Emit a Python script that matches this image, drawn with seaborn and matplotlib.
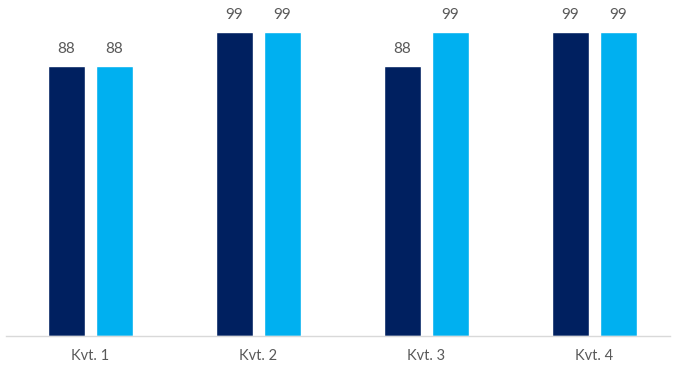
import matplotlib
matplotlib.use("Agg")
import matplotlib.pyplot as plt
import seaborn as sns
import pandas as pd

quarters = ["Kvt. 1", "Kvt. 2", "Kvt. 3", "Kvt. 4"]
series_names = ["A", "B"]
values_a = [88, 99, 88, 99]
values_b = [88, 99, 99, 99]
colors = ["#002060", "#00B0F0"]

df = pd.DataFrame({
    "quarter": quarters * 2,
    "series": [series_names[0]] * 4 + [series_names[1]] * 4,
    "value": values_a + values_b,
})

sns.set_theme(style="white")
plt.rcParams["font.family"] = ["Lato", "DejaVu Sans"]

fig = plt.figure(figsize=(6.74, 3.69), dpi=100)
ax = fig.add_axes([6 / 674, 33 / 369, 664 / 674, 333 / 369])

sns.barplot(data=df, x="quarter", y="value", hue="series", palette=colors,
            width=0.571, gap=0.23, ax=ax, legend=False, errorbar=None,
            saturation=1)

for cont in ax.containers:
    ax.bar_label(cont, labels=[f"{v:.0f}" for v in cont.datavalues],
                 padding=7, fontsize=11, color="#595959")

ax.set_xlim(-0.503, 3.449)
ax.set_ylim(0, 108.5)
ax.set_xlabel("")
ax.set_ylabel("")
ax.set_yticks([])
ax.tick_params(axis="x", length=0, pad=9, labelsize=10.5, labelcolor="#595959")
for s in ["top", "right", "left"]:
    ax.spines[s].set_visible(False)
ax.spines["bottom"].set_color("#D9D9D9")
ax.spines["bottom"].set_linewidth(1)

fig.savefig("out.png", dpi=100, facecolor="white")
